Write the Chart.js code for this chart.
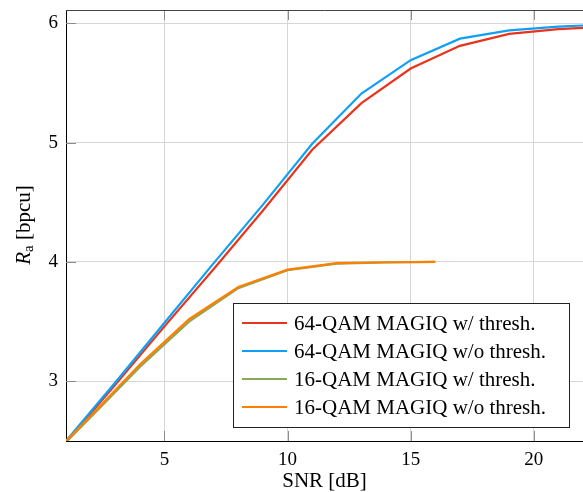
<!DOCTYPE html>
<html><head><meta charset="utf-8">
<script src="https://cdn.jsdelivr.net/npm/chart.js@4/dist/chart.umd.min.js"></script>
<style>html,body{margin:0;padding:0;background:#fff}</style>
</head><body>
<canvas id="c" width="583" height="492"></canvas>
<script>
// ---- data ----
const snr64 = [1, 3, 5, 7, 9, 11, 13, 15, 17, 19, 21, 23];
const ra64Thresh   = [2.49, 2.97, 3.46, 3.94, 4.43, 4.94, 5.33, 5.62, 5.81, 5.91, 5.95, 5.97];
const ra64NoThresh = [2.50, 2.99, 3.49, 3.99, 4.48, 4.99, 5.41, 5.69, 5.87, 5.94, 5.97, 5.99];
const snr16 = [1, 2, 4, 6, 8, 10, 12, 14, 16];
const ra16Thresh   = [2.49, 2.70, 3.12, 3.50, 3.78, 3.93, 3.985, 3.995, 4.0];
const ra16NoThresh = [2.50, 2.71, 3.14, 3.52, 3.79, 3.935, 3.99, 3.997, 4.0];
const seriesLabels = ['64-QAM MAGIQ w/ thresh.', '64-QAM MAGIQ w/o thresh.', '16-QAM MAGIQ w/ thresh.', '16-QAM MAGIQ w/o thresh.'];
const seriesColors = ['#e8341c', '#0fa0f5', '#8aa85a', '#ff8000'];
const xTicks = [5, 10, 15, 20];
const yTicks = [3, 4, 5, 6];
const xTitle = 'SNR [dB]';

const pts = (xs, ys) => xs.map((x, i) => ({x, y: ys[i]}));
const FONT = "'Liberation Serif', 'Times New Roman', serif";

const frame = {
  id: 'frame',
  afterDraw(chart) {
    const ctx = chart.ctx, a = chart.chartArea;
    const xs = chart.scales.x, ys = chart.scales.y;
    ctx.save();
    // inner tick marks
    ctx.strokeStyle = '#8c8c8c'; ctx.lineWidth = 1;
    xTicks.forEach(v => {
      const px = Math.round(xs.getPixelForValue(v)) + 0.5;
      ctx.beginPath(); ctx.moveTo(px, a.bottom); ctx.lineTo(px, a.bottom - 10); ctx.stroke();
      ctx.beginPath(); ctx.moveTo(px, a.top); ctx.lineTo(px, a.top + 10); ctx.stroke();
    });
    yTicks.forEach(v => {
      const py = Math.round(ys.getPixelForValue(v)) + 0.5;
      ctx.beginPath(); ctx.moveTo(a.left, py); ctx.lineTo(a.left + 10, py); ctx.stroke();
    });
    // top border
    ctx.strokeStyle = '#444';
    ctx.beginPath(); ctx.moveTo(a.left, a.top + 0.5); ctx.lineTo(a.right, a.top + 0.5); ctx.stroke();
    // x title
    ctx.fillStyle = '#000';
    ctx.font = '21px ' + FONT; ctx.textAlign = 'center'; ctx.textBaseline = 'alphabetic';
    ctx.fillText(xTitle, (a.left + a.right) / 2, 487);
    // y title: R_a [bpcu]
    ctx.translate(30, 225); ctx.rotate(-Math.PI / 2);
    ctx.textAlign = 'left';
    const f1 = 'italic 21px ' + FONT, f2 = '15px ' + FONT, f3 = '21px ' + FONT;
    ctx.font = f1; const wR = ctx.measureText('R').width;
    ctx.font = f2; const wa = ctx.measureText('a').width;
    ctx.font = f3; const wb = ctx.measureText(' [bpcu]').width;
    let x0 = -(wR + wa + wb) / 2;
    ctx.font = f1; ctx.fillText('R', x0, 0); x0 += wR;
    ctx.font = f2; ctx.fillText('a', x0, 3); x0 += wa;
    ctx.font = f3; ctx.fillText(' [bpcu]', x0, 0);
    ctx.restore();

    // legend
    ctx.save();
    const bx = 233.5, by = 303.5, bw = 336, bh = 124;
    ctx.fillStyle = '#fff'; ctx.fillRect(bx, by, bw, bh);
    ctx.strokeStyle = '#222'; ctx.lineWidth = 1; ctx.strokeRect(bx, by, bw, bh);
    ctx.font = '21px ' + FONT; ctx.textBaseline = 'middle'; ctx.textAlign = 'left';
    chart.data.datasets.forEach((ds, i) => {
      const yy = 323 + i * 28;
      ctx.strokeStyle = ds.borderColor; ctx.lineWidth = 2.2;
      ctx.beginPath(); ctx.moveTo(242, yy); ctx.lineTo(287, yy); ctx.stroke();
      ctx.fillStyle = '#000'; ctx.fillText(ds.label, 294, yy + 1);
    });
    ctx.restore();
  }
};

new Chart(document.getElementById('c'), {
  type: 'line',
  data: {
    datasets: [
      {label: seriesLabels[0], data: pts(snr64, ra64Thresh), borderColor: seriesColors[0], order: 3},
      {label: seriesLabels[1], data: pts(snr64, ra64NoThresh), borderColor: seriesColors[1], order: 2},
      {label: seriesLabels[2], data: pts(snr16, ra16Thresh), borderColor: seriesColors[2], order: 1},
      {label: seriesLabels[3], data: pts(snr16, ra16NoThresh), borderColor: seriesColors[3], order: 0}
    ]
  },
  options: {
    responsive: false, animation: false, devicePixelRatio: 1,
    layout: {padding: {top: 10, right: 0, left: 0, bottom: 0}},
    elements: {point: {radius: 0}, line: {borderWidth: 2.2, tension: 0, fill: false}},
    plugins: {legend: {display: false}, tooltip: {enabled: false}},
    scales: {
      x: {
        type: 'linear', min: 1, max: 22,
        afterBuildTicks: s => { s.ticks = xTicks.map(v => ({value: v})); },
        afterFit: s => { s.height = 51; s.paddingLeft = 0; s.paddingRight = 0; },
        grid: {color: '#d6d6d6', drawTicks: false, lineWidth: 1},
        border: {color: '#000', width: 1},
        ticks: {padding: 8, color: '#000', font: {family: FONT, size: 19}, maxRotation: 0}
      },
      y: {
        type: 'linear', min: 2.5, max: 6.11,
        afterBuildTicks: s => { s.ticks = yTicks.map(v => ({value: v})); },
        afterFit: s => { s.width = 66; s.paddingTop = 0; s.paddingBottom = 0; },
        grid: {color: '#d6d6d6', drawTicks: false, lineWidth: 1},
        border: {color: '#000', width: 1},
        ticks: {padding: 8, color: '#000', font: {family: FONT, size: 19}}
      }
    }
  },
  plugins: [frame]
});
</script>
</body></html>
